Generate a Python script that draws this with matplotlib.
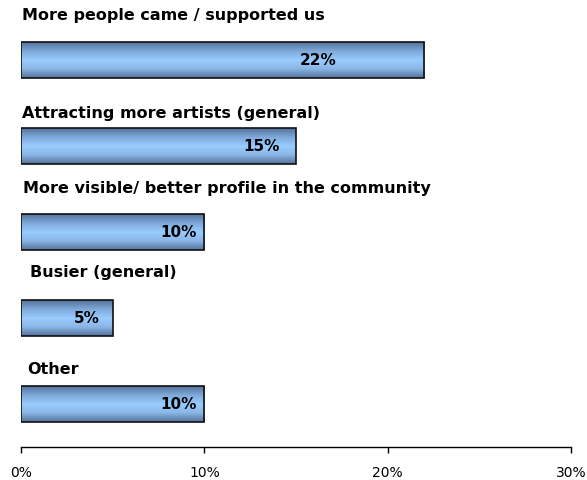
import matplotlib.pyplot as plt
import numpy as np
from matplotlib.colors import LinearSegmentedColormap

categories = [
    'More people came / supported us',
    'Attracting more artists (general)',
    'More visible/ better profile in the community',
    'Busier (general)',
    'Other',
]
values = [22, 15, 10, 5, 10]
ticks = [0, 10, 20, 30]

plt.rcParams['font.family'] = ['DejaVu Sans']

fig = plt.figure(figsize=(5.87, 4.81), dpi=100)
ax = fig.add_axes([21 / 587, 33 / 481, 550 / 587, 448 / 481])

cmap = LinearSegmentedColormap.from_list(
    'barblue', ['#55739c', '#7ea9da', '#99ccff', '#8ab6e6', '#55739c'])
grad = np.linspace(0, 1, 64).reshape(-1, 1)

bar_h = 0.41
# baseline of each category label above its bar (axis units)
label_off = [0.477, 0.337, 0.465, 0.488, 0.36]
label_dx = [0.05, 0.05, 0.1, 0.49, 0.33]
value_x = [16.2, 13.1, 8.6, 3.6, 8.6]

for i, (cat, v) in enumerate(zip(categories, values)):
    bars = ax.barh(i, v, height=bar_h, color='none', edgecolor='#111111',
                   linewidth=1.2, zorder=3)
    rect = bars[0]
    im = ax.imshow(grad, cmap=cmap, aspect='auto', zorder=2,
                   extent=[0, v, i + bar_h / 2, i - bar_h / 2])
    im.set_clip_path(rect)
    ax.text(value_x[i], i, f'{v}%', ha='center', va='center',
            fontsize=11, fontweight='bold', zorder=4)
    ax.text(label_dx[i], i - label_off[i], cat, ha='left', va='baseline',
            fontsize=11.5, fontweight='bold')

ax.set_xlim(0, 30)
ax.set_ylim(4.5, -0.709)
ax.set_xticks(ticks)
ax.set_xticklabels([f'{t}%' for t in ticks], fontsize=10)
ax.tick_params(axis='x', direction='out', length=4, width=1, pad=9)
ax.set_yticks([])
for s in ['top', 'right', 'left']:
    ax.spines[s].set_visible(False)
ax.spines['bottom'].set_linewidth(1)

fig.savefig('out.png', dpi=100)
